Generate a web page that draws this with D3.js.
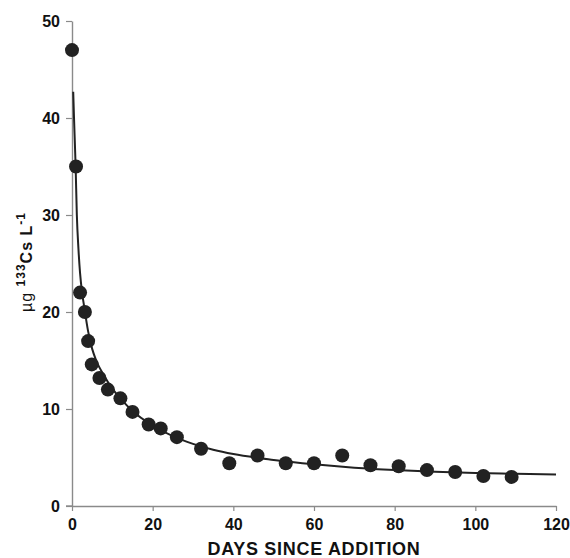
<!DOCTYPE html>
<html>
<head>
<meta charset="utf-8">
<script src="https://cdn.jsdelivr.net/npm/d3@7"></script>
<style>
  html, body { margin: 0; padding: 0; background: #fff; }
  svg { display: block; font-family: "Liberation Sans", Arial, sans-serif; }
</style>
</head>
<body>
<svg id="chart" width="570" height="558"></svg>
<script>
// Measured 133Cs concentration (µg/L) by day since addition
const days = [0, 1, 2, 3.2, 4, 4.9, 6.8, 8.9, 12, 15, 19, 22, 26, 32, 39, 46, 53, 60, 67, 74, 81, 88, 95, 102, 109];
const conc = [47, 35, 22, 20, 17, 14.6, 13.2, 12, 11.1, 9.7, 8.4, 8, 7.1, 5.9, 4.4, 5.2, 4.4, 4.4, 5.2, 4.2, 4.1, 3.7, 3.5, 3.1, 3];

// Fitted decline curve, sampled along the day axis
const fitDays = [0.3, 0.5, 0.9, 1.2, 1.6, 2, 2.5, 3, 4, 5, 6, 8, 10, 12, 15, 20, 25, 30, 35, 40, 50, 60, 70, 80, 90, 100, 110, 120];
const fitConc = [42.7, 40, 35, 30, 26.5, 24, 22, 20.6, 18, 16.2, 15, 13.4, 12.1, 11.1, 9.8, 8.3, 7.2, 6.4, 5.8, 5.35, 4.75, 4.3, 3.95, 3.7, 3.52, 3.4, 3.32, 3.25];

const xTicks = [0, 20, 40, 60, 80, 100, 120];
const yTicks = [0, 10, 20, 30, 40, 50];

const svg = d3.select("#chart");
const x = d3.scaleLinear().domain([0, 120]).range([72, 556]);
const y = d3.scaleLinear().domain([0, 50]).range([506, 21]);

const axisColor = "#8a8a8a";

// x axis
const gx = svg.append("g")
  .attr("transform", `translate(0,${y(0)})`)
  .call(d3.axisBottom(x).tickValues(xTicks).tickSize(5).tickSizeOuter(0).tickPadding(8));
// y axis
const gy = svg.append("g")
  .attr("transform", `translate(${x(0)},0)`)
  .call(d3.axisLeft(y).tickValues(yTicks).tickSize(6).tickSizeOuter(0).tickPadding(6));

[gx, gy].forEach(g => {
  g.select(".domain").attr("stroke", axisColor).attr("stroke-width", 1.4);
  g.selectAll(".tick line").attr("stroke", axisColor).attr("stroke-width", 1.2);
  g.selectAll(".tick text")
    .attr("fill", "#111")
    .style("font-family", "'Liberation Sans', Arial, sans-serif")
    .style("font-size", "16px")
    .style("font-weight", "bold");
});
// extend the x axis baseline to meet the y tick at zero
svg.append("line")
  .attr("x1", x(0) - 6).attr("x2", x(0))
  .attr("y1", y(0)).attr("y2", y(0))
  .attr("stroke", axisColor).attr("stroke-width", 1.4);

// fitted curve
const fit = fitDays.map((d, i) => [d, fitConc[i]]);
svg.append("path")
  .datum(fit)
  .attr("fill", "none")
  .attr("stroke", "#222")
  .attr("stroke-width", 2)
  .attr("d", d3.line().x(d => x(d[0])).y(d => y(d[1])).curve(d3.curveMonotoneX));

// observations
svg.append("g")
  .selectAll("circle")
  .data(days.map((d, i) => [d, conc[i]]))
  .join("circle")
  .attr("cx", d => x(d[0]))
  .attr("cy", d => y(d[1]))
  .attr("r", 7)
  .attr("fill", "#222");

// axis titles
svg.append("text")
  .attr("x", 314)
  .attr("y", 555)
  .attr("text-anchor", "middle")
  .attr("fill", "#111")
  .style("font-size", "18px")
  .style("letter-spacing", "0.7px")
  .style("font-weight", "bold")
  .text("DAYS SINCE ADDITION");

const yl = svg.append("text")
  .attr("transform", "translate(32,262) rotate(-90)")
  .attr("text-anchor", "middle")
  .attr("fill", "#111")
  .style("font-size", "16px")
  .style("letter-spacing", "1px")
  .style("font-weight", "bold");
yl.append("tspan").style("font-weight", "normal").text("µg ");
yl.append("tspan").attr("dy", -7).style("font-size", "12px").text("133");
yl.append("tspan").attr("dy", 7).text("Cs L");
yl.append("tspan").attr("dy", -7).style("font-size", "12px").text("-1");
</script>
</body>
</html>
